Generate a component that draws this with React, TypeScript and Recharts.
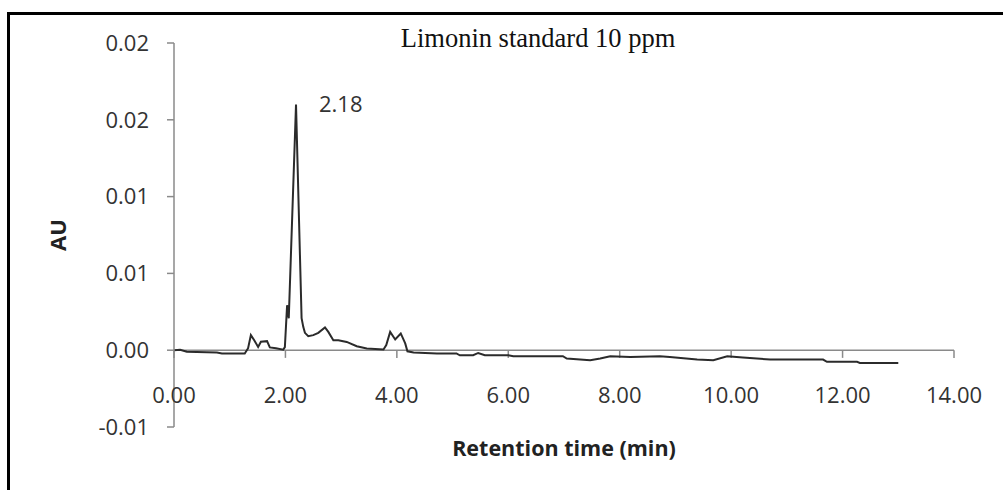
import React from 'react';
import { LineChart, Line, XAxis, YAxis, ReferenceLine, ReferenceDot } from 'recharts';

// retention time (min) and absorbance (AU)
const retentionTime = [
  0, 0.11, 0.23, 0.77, 0.86, 1.27, 1.33, 1.38, 1.44, 1.51, 1.56, 1.67, 1.72, 1.83, 1.96, 1.99,
  2.03, 2.06, 2.19, 2.29, 2.32, 2.35, 2.41, 2.5, 2.59, 2.71, 2.77, 2.86, 2.95, 3.1, 3.28, 3.46,
  3.76, 3.81, 3.88, 3.97, 4.07, 4.15, 4.19, 4.3, 4.72, 5.07, 5.13, 5.37, 5.46, 5.58, 6.0, 6.09,
  6.98, 7.05, 7.47, 7.65, 7.83, 8.19, 8.72, 8.9, 9.39, 9.68, 9.93, 10.21, 10.7, 11.65, 11.72,
  12.26, 12.31, 13.0,
];
const absorbance = [
  0, 0.00003, -0.0001, -0.00015, -0.00021, -0.00021, 0.00013, 0.00098, 0.00065, 0.00021, 0.00055,
  0.00059, 0.00018, 0.00013, 0.00003, 0.0002, 0.00293, 0.00208, 0.016, 0.00208, 0.00152, 0.00113,
  0.00091, 0.00098, 0.00113, 0.00148, 0.00119, 0.00065, 0.00065, 0.00054, 0.00026, 0.00011,
  0.00005, 0.00033, 0.00119, 0.0007, 0.00109, 0.00044, -0.00007, -0.00015, -0.00021, -0.00021,
  -0.00033, -0.00033, -0.00018, -0.00033, -0.00033, -0.00039, -0.00039, -0.00054, -0.00065,
  -0.00054, -0.00039, -0.00044, -0.00039, -0.00044, -0.00061, -0.00065, -0.00039, -0.00048,
  -0.00061, -0.00061, -0.00076, -0.00076, -0.00083, -0.00083,
];

const xTicks = [0, 2, 4, 6, 8, 10, 12, 14];
const xTickLabels = ['0.00', '2.00', '4.00', '6.00', '8.00', '10.00', '12.00', '14.00'];
const yTicks = [-0.005, 0, 0.005, 0.01, 0.015, 0.02];
const yTickLabels = ['-0.01', '0.00', '0.01', '0.01', '0.02', '0.02'];

const peakTime = 2.19;
const peakValue = 0.016;
const peakLabel = '2.18';

const data = retentionTime.map((t, i) => ({ t, au: absorbance[i] }));

const AXIS = '#8a8a8a';
const TEXT = '#333';
const FONT = '"Open Sans", sans-serif';

const XTick = (props: any) => {
  const { x, y, payload } = props;
  const i = xTicks.indexOf(payload.value);
  return (
    <text x={x} y={y - 32} textAnchor="middle" dominantBaseline="middle" fontSize={22} fill={TEXT} fontFamily={FONT}>
      {xTickLabels[i]}
    </text>
  );
};

const App: React.FC = () => (
  <div style={{ position: 'absolute', left: 0, top: 0, width: 1003, height: 490, background: '#fff' }}>
    <div
      style={{
        position: 'absolute', left: 7, top: 12, right: 0, bottom: 0,
        borderLeft: '3px solid #000', borderTop: '3px solid #000',
      }}
    />
    <div
      style={{
        position: 'absolute', left: 380, top: 15, width: 316, textAlign: 'center',
        fontFamily: '"Liberation Serif", "Times New Roman", serif', fontSize: 26.5, color: '#111', lineHeight: '46px',
      }}
    >
      Limonin standard 10 ppm
    </div>
    <LineChart width={1003} height={490} data={data} margin={{ top: 43, right: 49, bottom: 33, left: 44 }} style={{ position: 'absolute', left: 0, top: 0 }}>
      <XAxis
        dataKey="t"
        type="number"
        domain={[0, 14]}
        ticks={xTicks}
        axisLine={false}
        tickLine={false}
        tickSize={0}
        height={30}
        tick={<XTick />}
        interval={0}
      />
      <YAxis
        type="number"
        domain={[-0.005, 0.02]}
        ticks={yTicks}
        width={130}
        axisLine={{ stroke: AXIS, strokeWidth: 1.5 }}
        tickLine={{ stroke: AXIS, strokeWidth: 1.5 }}
        tickSize={7}
        tickMargin={18}
        tickFormatter={(v: number) => yTickLabels[yTicks.indexOf(v)]}
        tick={{ fontSize: 22, fill: TEXT, fontFamily: FONT }}
        interval={0}
        label={{ value: 'AU', angle: -90, position: 'insideLeft', offset: 14, style: { fontSize: 22, fontWeight: 700, fill: '#222', fontFamily: FONT, textAnchor: 'middle' } }}
      />
      <ReferenceLine y={0} stroke={AXIS} strokeWidth={1.5} />
      {xTicks.map((t) => (
        <ReferenceLine key={t} segment={[{ x: t, y: 0 }, { x: t, y: -0.0005 }]} stroke={AXIS} strokeWidth={1.5} />
      ))}
      <Line
        type="linear"
        dataKey="au"
        stroke="#2b2b2b"
        strokeWidth={2}
        dot={false}
        isAnimationActive={false}
      />
      <ReferenceDot
        x={peakTime}
        y={peakValue}
        r={0}
        stroke="none"
        fill="none"
        label={{ value: peakLabel, position: 'right', offset: 23, style: { fontSize: 22, fill: TEXT, fontFamily: FONT } }}
      />
    </LineChart>
    <div
      style={{
        position: 'absolute', left: 364, top: 433, width: 400, textAlign: 'center',
        fontFamily: FONT, fontWeight: 700, fontSize: 21.5, color: '#222',
      }}
    >
      Retention time (min)
    </div>
  </div>
);

export default App;
